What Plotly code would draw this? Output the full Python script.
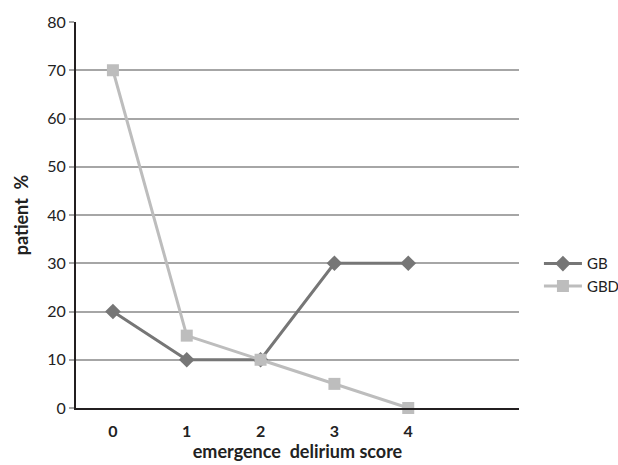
import plotly.graph_objects as go

# Emergence delirium score distribution per group
scores = [0, 1, 2, 3, 4]
gb_pct = [20, 10, 10, 30, 30]
gbd_pct = [70, 15, 10, 5, 0]
y_ticks = [0, 10, 20, 30, 40, 50, 60, 70, 80]

FONT = "Lato"

fig = go.Figure()
fig.add_trace(go.Scatter(
    x=scores, y=gb_pct, name="GB", mode="lines+markers",
    line=dict(color="#767676", width=3),
    marker=dict(symbol="diamond", size=12, color="#767676"),
    cliponaxis=False,
))
fig.add_trace(go.Scatter(
    x=scores, y=gbd_pct, name="GBD", mode="lines+markers",
    line=dict(color="#bdbdbd", width=3),
    marker=dict(symbol="square", size=12, color="#bdbdbd"),
    cliponaxis=False,
))

fig.update_layout(
    width=618, height=465,
    margin=dict(l=76, r=99, t=22, b=57, autoexpand=False),
    paper_bgcolor="white", plot_bgcolor="white",
    font=dict(family=FONT, color="#222222", size=16),
    showlegend=True,
    legend=dict(x=1.045, xanchor="left", y=0.345, yanchor="middle",
                font=dict(size=15, color="#222222"), tracegroupgap=0,
                itemwidth=38, bgcolor="rgba(0,0,0,0)"),
    xaxis=dict(
        range=[-0.5, 5.5], tickmode="array", tickvals=scores,
        ticktext=[str(s) for s in scores],
        showgrid=False, zeroline=False,
        showline=True, linecolor="#231f20", linewidth=2,
        ticks="outside", ticklen=8, tickcolor="rgba(0,0,0,0)",
        tickfont=dict(size=16, family=FONT, weight="bold"),
        title=dict(text="<b>emergence  delirium score</b>", font=dict(size=18), standoff=6),
    ),
    yaxis=dict(
        range=[0, 80], tickmode="array", tickvals=y_ticks,
        showgrid=True, gridcolor="#a6a6a6", gridwidth=1.5,
        zeroline=False,
        showline=True, linecolor="#231f20", linewidth=2,
        ticks="outside", ticklen=5, tickcolor="#a6a6a6", tickwidth=1.5,
        tickfont=dict(size=16),
        title=dict(text="<b>patient  %</b>", font=dict(size=18), standoff=14),
    ),
)

fig.write_html("out.html")
